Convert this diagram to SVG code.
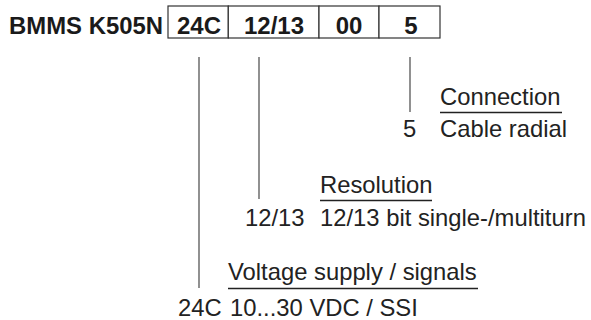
<svg xmlns="http://www.w3.org/2000/svg" width="591" height="320" viewBox="0 0 591 320">
<style>
text{font-family:"Liberation Sans",Arial,sans-serif;fill:#222;}
.t{font-size:23.8px;}
.b{font-size:24px;font-weight:bold;fill:#1a1a1a;}
.box{fill:#fff;stroke:#333;stroke-width:1.2;}
.lead{stroke:#555;stroke-width:1.3;fill:none;}
.ul{stroke:#222;stroke-width:1.3;fill:none;}
</style>
<rect width="591" height="320" fill="#fff"/>
<g id="title">
<text class="b" x="9" y="34" textLength="154" lengthAdjust="spacingAndGlyphs">BMMS K505N</text>
</g>
<g id="code-24C">
<rect class="box" x="168" y="6" width="60.3" height="32"/>
<text class="b" x="199" y="34" text-anchor="middle">24C</text>
</g>
<g id="code-1213">
<rect class="box" x="228.3" y="6" width="90.7" height="32"/>
<text class="b" x="274" y="34" text-anchor="middle">12/13</text>
</g>
<g id="code-00">
<rect class="box" x="319" y="6" width="60" height="32"/>
<text class="b" x="349" y="34" text-anchor="middle">00</text>
</g>
<g id="code-5">
<rect class="box" x="379" y="6" width="61" height="32"/>
<text class="b" x="411" y="34" text-anchor="middle">5</text>
</g>
<g id="connectors">
<line class="lead" x1="199" y1="57" x2="199" y2="288"/>
<line class="lead" x1="259" y1="57" x2="259" y2="199"/>
<line class="lead" x1="410" y1="57" x2="410" y2="112"/>
</g>
<g id="connection">
<text class="t" x="440" y="105">Connection</text>
<line class="ul" x1="440" y1="112.5" x2="562" y2="112.5"/>
<text class="t" x="403" y="137">5</text>
<text class="t" x="440" y="137">Cable radial</text>
</g>
<g id="resolution">
<text class="t" x="320" y="193">Resolution</text>
<line class="ul" x1="320" y1="200.5" x2="432" y2="200.5"/>
<text class="t" x="245" y="226">12/13</text>
<text class="t" x="320" y="226">12/13 bit single-/multiturn</text>
</g>
<g id="voltage">
<text class="t" x="228" y="280">Voltage supply / signals</text>
<line class="ul" x1="228" y1="288.5" x2="478" y2="288.5"/>
<text class="t" x="178" y="316">24C</text>
<text class="t" x="230" y="316">10...30 VDC / SSI</text>
</g>
</svg>
